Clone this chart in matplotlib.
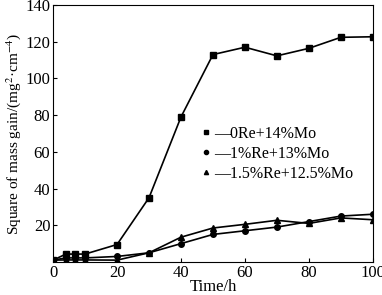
import matplotlib
matplotlib.use("Agg")
import matplotlib.pyplot as plt
from matplotlib.lines import Line2D

plt.rcParams['font.family'] = ['Liberation Serif', 'DejaVu Serif']
plt.rcParams['mathtext.fontset'] = 'stix'

# time points (h)
t = [0, 4, 7, 10, 20, 30, 40, 50, 60, 70, 80, 90, 100]
# square of mass gain (mg^2*cm^-4)
re0 = [1.0, 4.3, 4.3, 4.3, 9.5, 35, 79, 113, 117, 112.3, 116.4, 122.4, 122.7]
re1 = [1.0, 2.2, 2.2, 2.2, 3.0, 5.0, 10.0, 15.0, 17.0, 19.0, 22.0, 25.0, 26.0]
re15 = [1.0, 1.1, 1.1, 1.1, 1.0, 5.0, 13.5, 18.5, 20.5, 22.7, 21.0, 24.0, 23.0]
labels = ['0Re+14%Mo', '1%Re+13%Mo', '1.5%Re+12.5%Mo']

fig = plt.figure(figsize=(3.82, 2.95), dpi=100)
ax = fig.add_axes([0.139, 0.112, 0.837, 0.871])

ax.plot(t, re0, color='black', lw=1.2, marker='s', ms=4)
ax.plot(t, re1, color='black', lw=1.2, marker='o', ms=4)
ax.plot(t, re15, color='black', lw=1.2, marker='^', ms=4)

ax.set_xlim(0, 100)
ax.set_ylim(0, 140)
ax.set_xticks([0, 20, 40, 60, 80, 100])
ax.set_yticks([20, 40, 60, 80, 100, 120, 140])
ax.tick_params(direction='in', labelsize=12, length=3, width=0.8, pad=2)
for s in ax.spines.values():
    s.set_linewidth(0.8)

ax.set_xlabel('Time/h', fontsize=12, labelpad=-1)
ax.set_ylabel(r'Square of mass gain/(mg$^{2}$·cm$^{-4}$)', fontsize=11, labelpad=2)

handles = [Line2D([], [], color='black', marker=m, ls='none', ms=3) for m in ['s', 'o', '^']]
ax.legend(handles, ['\u2014' + l for l in labels], loc='center left',
          bbox_to_anchor=(0.44, 0.42), frameon=False, fontsize=11.5,
          handlelength=0.5, handletextpad=0.3, labelspacing=0.25, borderpad=0)

fig.savefig('out.png', dpi=100)
